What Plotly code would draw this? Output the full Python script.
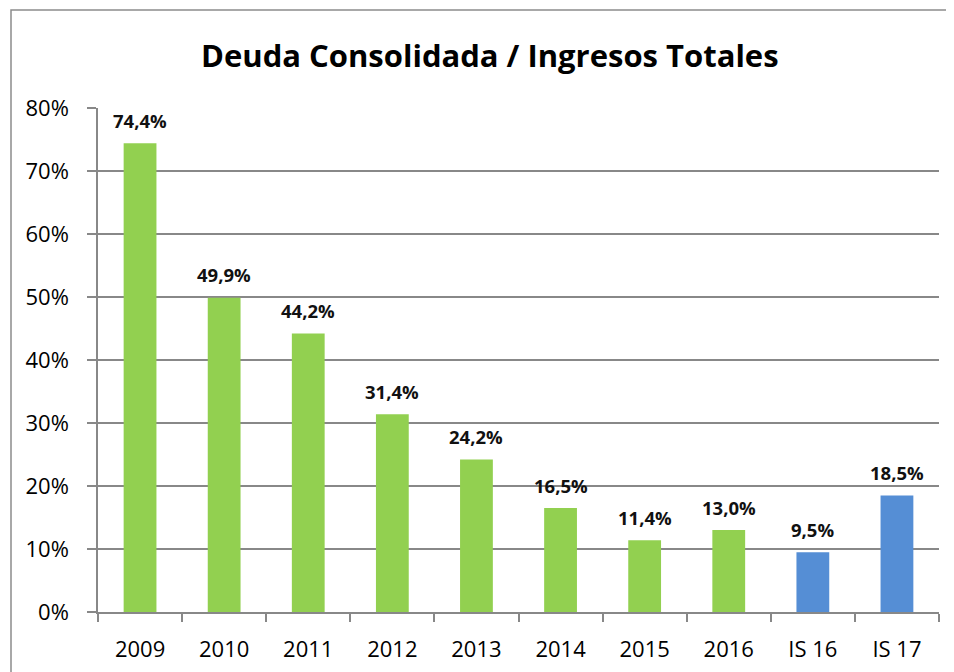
import plotly.graph_objects as go

categories = ["2009", "2010", "2011", "2012", "2013", "2014", "2015", "2016", "IS 16", "IS 17"]
values = [0.744, 0.499, 0.442, 0.314, 0.242, 0.165, 0.114, 0.130, 0.095, 0.185]
bar_colors = ["#92D050"] * 8 + ["#558ED5"] * 2
y_ticks = [0, 0.1, 0.2, 0.3, 0.4, 0.5, 0.6, 0.7, 0.8]

FONT = "Open Sans"

# page has an 8px body margin; figure coordinates = screen - 8
W, H = 946, 664
L, R, T, B = 90, 931, 100, 604
PW, PH = R - L, B - T


def px(x):
    return (x - 8 - L) / PW


def py(y):
    return (B - (y - 8)) / PH


fig = go.Figure()
fig.add_trace(go.Bar(
    x=categories, y=values, marker=dict(color=bar_colors, line=dict(width=0)),
    width=0.39, showlegend=False, hoverinfo="skip",
))

annotations = []
for i, v in enumerate(values):
    annotations.append(dict(
        x=i, y=v, xref="x", yref="y", text="<b>" + f"{v*100:.1f}".replace(".", ",") + "%</b>",
        showarrow=False, yanchor="middle", yshift=23,
        font=dict(family=FONT, size=18.5, color="#111111"),
    ))
annotations.append(dict(
    x=px(490), y=py(55), xref="paper", yref="paper",
    text="<b>Deuda Consolidada / Ingresos Totales</b>", showarrow=False,
    xanchor="center", yanchor="middle",
    font=dict(family=FONT, size=31, color="#000000"),
))

fig.update_layout(
    width=W, height=H,
    margin=dict(l=L, r=W - R, t=T, b=H - B, autoexpand=False),
    paper_bgcolor="white", plot_bgcolor="white",
    separators=",.",
    annotations=annotations,
    shapes=[dict(type="rect", xref="paper", yref="paper",
                 x0=px(11), x1=px(975), y0=py(690), y1=py(10),
                 line=dict(color="#8C8C8C", width=1.5), fillcolor="rgba(0,0,0,0)", layer="below")],
    xaxis=dict(
        type="category", categoryorder="array", categoryarray=categories,
        range=[-0.5, len(categories) - 0.5], autorange=False, automargin=False,
        showline=True, linecolor="#888888", linewidth=1.5, tickangle=0,
        ticks="outside", tickson="boundaries", ticklen=8, tickcolor="#888888", tickwidth=1.5,
        ticklabelstandoff=17,
        tickfont=dict(family=FONT, size=22, color="#000000"), showgrid=False,
    ),
    yaxis=dict(
        range=[0, 0.8], tickvals=y_ticks, tickformat=".0%", automargin=False,
        showline=True, linecolor="#888888", linewidth=1.5,
        ticks="outside", ticklen=9, tickcolor="#888888", tickwidth=1.5,
        ticklabelstandoff=14,
        showgrid=True, gridcolor="#888888", gridwidth=1.5, zeroline=False,
        tickfont=dict(family=FONT, size=22, color="#000000"),
    ),
)

fig.write_html("out.html")
